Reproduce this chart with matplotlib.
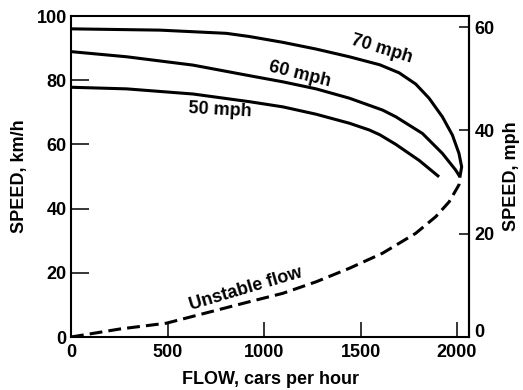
import numpy as np
import matplotlib.pyplot as plt

plt.rcParams['font.family'] = ['Liberation Sans', 'DejaVu Sans']
plt.rcParams['font.weight'] = 'bold'

# speed-flow curves, speed in km/h, flow in cars per hour
flow70 = [0, 460, 805, 925, 1097, 1270, 1442, 1600, 1700, 1786, 1855, 1924, 1976, 2010, 2024, 2015]
speed70 = [96, 95.6, 94.6, 93.6, 91.8, 89.7, 87.3, 84.8, 82.3, 78.8, 74.4, 68.6, 62.9, 57.2, 53, 49.9]

flow60 = [0, 288, 632, 925, 1097, 1270, 1442, 1614, 1683, 1821, 1924, 1993, 2015]
speed60 = [88.9, 87.3, 84.7, 81.4, 79.5, 77.3, 74.4, 70.7, 68.6, 63.4, 57.2, 52, 49.9]

flow50 = [0, 288, 632, 925, 1097, 1270, 1442, 1545, 1600, 1683, 1804, 1907]
speed50 = [77.8, 77.3, 75.7, 73.3, 71.7, 69.4, 66.6, 64.5, 63, 60, 55, 49.9]

flow_unst = [0, 254, 494, 925, 1097, 1270, 1442, 1614, 1786, 1890, 1959, 2010, 2015]
speed_unst = [0, 2.5, 4.3, 11, 13.6, 17.2, 21.4, 26.1, 32.3, 37.5, 42.1, 47.4, 49.9]

fs = 13

fig = plt.figure(figsize=(5.23, 3.90), dpi=100)
ax = fig.add_axes([71/523, 1-337/390, (469-71)/523, (337-16)/390])

lw = 2.2
for fx, sy in [(flow70, speed70), (flow60, speed60), (flow50, speed50)]:
    ax.plot(fx, sy, color='black', lw=lw, solid_joinstyle='round', solid_capstyle='butt')
ax.plot(flow_unst, speed_unst, color='black', lw=lw, dashes=(4.2, 2))

ax.set_xlim(0, 2062)
ax.set_ylim(0, 100)
ax.set_xticks([0, 500, 1000, 1500, 2000])
ax.set_yticks([0, 20, 40, 60, 80, 100])
ax.tick_params(axis='x', direction='in', length=11, width=1.1, labelsize=fs, pad=5)
ax.tick_params(axis='y', direction='in', length=13, width=1.1, labelsize=fs, pad=3)
for s in ax.spines.values():
    s.set_linewidth(1.5)

ax.set_xlabel('FLOW, cars per hour', fontsize=fs, fontweight='bold', labelpad=7)
ax.set_ylabel('SPEED, km/h', fontsize=fs, fontweight='bold', labelpad=6)

sec = ax.secondary_yaxis('right', functions=(lambda v: v / 1.609, lambda v: v * 1.609))
sec.set_yticks([0, 20, 40, 60])
sec.tick_params(direction='in', length=7, width=1.1, labelsize=fs, pad=4)
sec.set_ylabel('SPEED, mph', fontsize=fs, fontweight='bold', labelpad=6)
sec.spines['right'].set_linewidth(1.5)
# right-hand "0" sits a touch above the corner, as in the reference
sec.get_yticklabels()[0].set_verticalalignment('baseline')

ax.text(1612, 89.8, '70 mph', fontsize=fs, fontweight='bold', rotation=-17, ha='center', va='center')
ax.text(1183, 81.8, '60 mph', fontsize=fs, fontweight='bold', rotation=-14, ha='center', va='center')
ax.text(770, 70.7, '50 mph', fontsize=fs, fontweight='bold', rotation=-3, ha='center', va='center')
ax.text(908, 14.8, 'Unstable flow', fontsize=fs, fontweight='bold', rotation=16.5, ha='center', va='center')

fig.savefig('out.png', dpi=100)
